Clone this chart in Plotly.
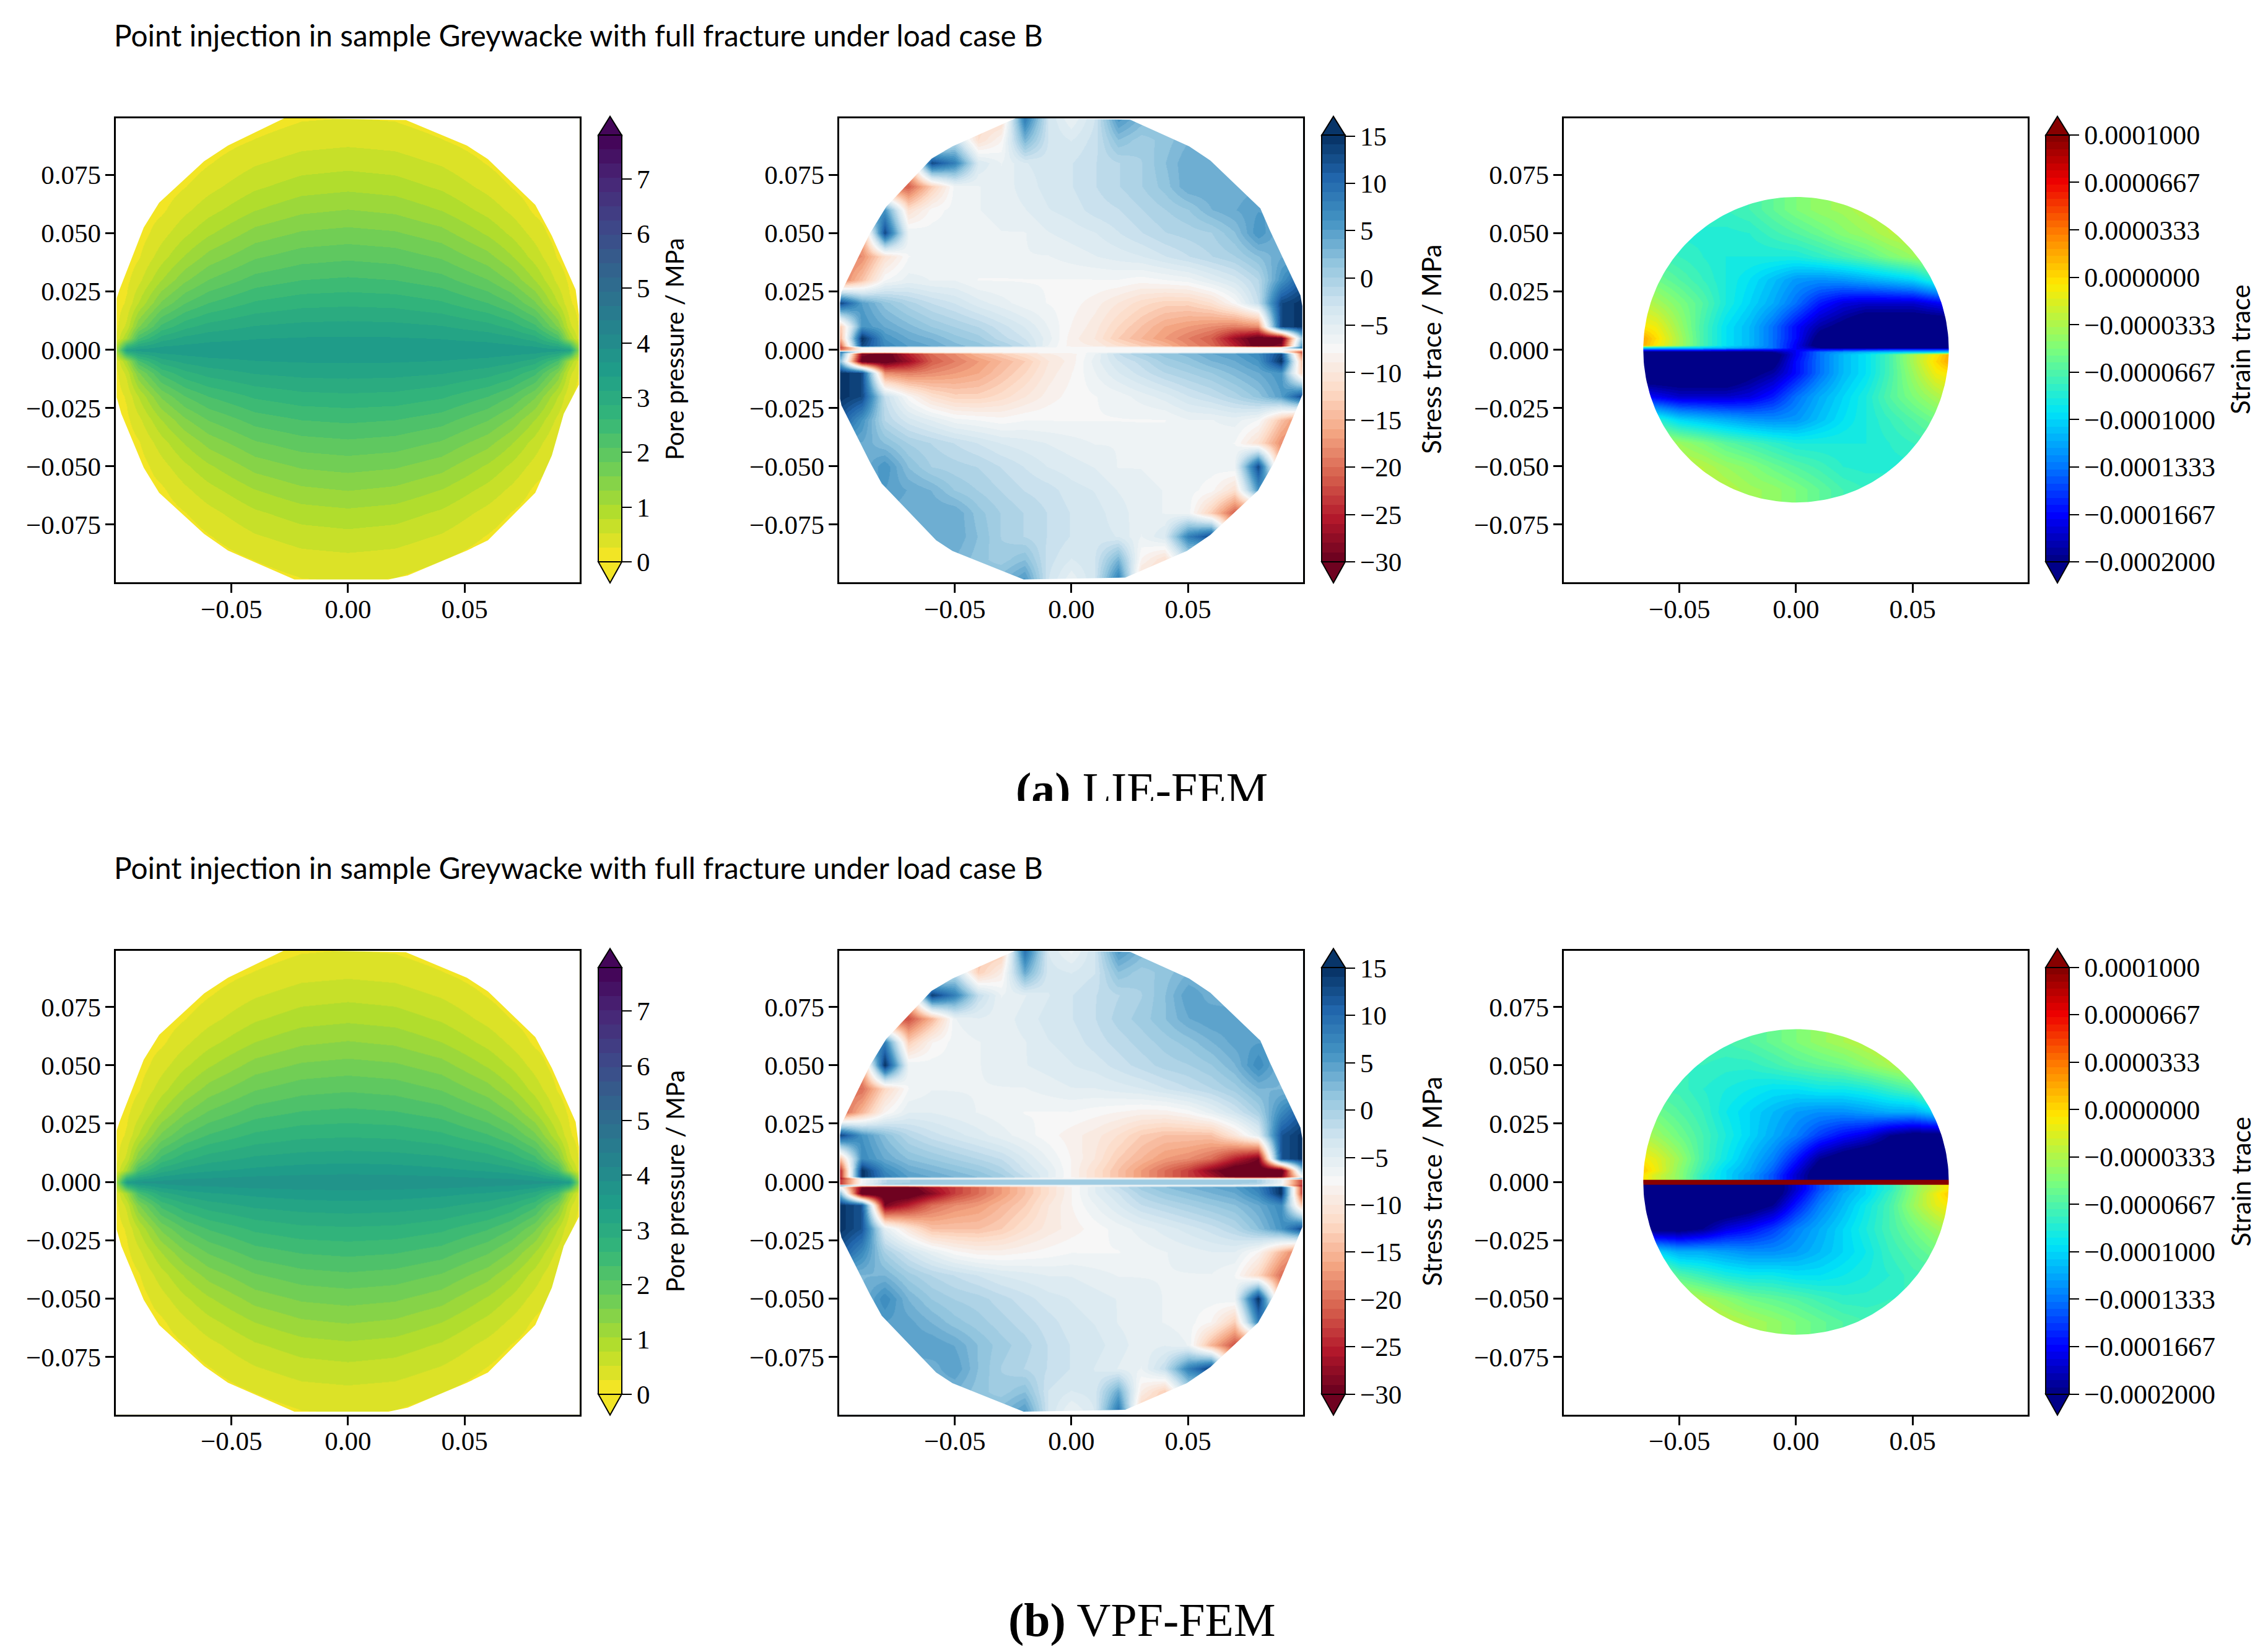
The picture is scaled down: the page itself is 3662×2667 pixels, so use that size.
import numpy as np
import plotly.graph_objects as go

W, H = 3662, 2667

# ---- text / ticks ----
TITLE = "Point injection in sample Greywacke with full fracture under load case B"
CAPTION_A = "<b>(a)</b> LIE-FEM"
CAPTION_B = "<b>(b)</b> VPF-FEM"
x_ticks = [-0.05, 0.0, 0.05]
x_labels = ["−0.05", "0.00", "0.05"]
y_ticks = [-0.075, -0.05, -0.025, 0.0, 0.025, 0.05, 0.075]
y_labels = ["−0.075", "−0.050", "−0.025", "0.000", "0.025", "0.050", "0.075"]
pore_ticks = [0, 1, 2, 3, 4, 5, 6, 7]
pore_labels = ["0", "1", "2", "3", "4", "5", "6", "7"]
stress_ticks = [-30, -25, -20, -15, -10, -5, 0, 5, 10, 15]
stress_labels = ["−30", "−25", "−20", "−15", "−10", "−5", "0", "5", "10", "15"]
strain_ticks = [-0.0002, -0.0001667, -0.0001333, -0.0001, -0.0000667, -0.0000333, 0.0, 0.0000333, 0.0000667, 0.0001]
strain_labels = ["−0.0002000", "−0.0001667", "−0.0001333", "−0.0001000", "−0.0000667", "−0.0000333",
                 "0.0000000", "0.0000333", "0.0000667", "0.0001000"]

# ---- pore pressure (MPa), one quadrant ----
pore_x = [0, .02, .04, .06, .07, .08, .09, .095, .1]
pore_y = [0, .005, .01, .02, .03, .04, .05, .06, .07, .08, .09, .1]
pore_a = [
    [3.55, 3.55, 3.55, 3.55, 3.55, 3.55, 3.5, 3.3, .8],
    [3.41, 3.40, 3.37, 3.30, 3.20, 2.99, 2.30, 1.05, .2],
    [3.22, 3.20, 3.14, 2.97, 2.78, 2.41, 1.52, .6, .15],
    [2.80, 2.77, 2.64, 2.34, 2.07, 1.60, .78, .3, .1],
    [2.39, 2.34, 2.19, 1.83, 1.51, 1.03, .44, .2, .1],
    [2.02, 1.96, 1.78, 1.39, 1.06, .66, .23, .1, .1],
    [1.65, 1.59, 1.40, .99, .72, .41, .12, .1, .1],
    [1.31, 1.24, 1.03, .68, .46, .21, .1, .1, .1],
    [.97, .91, .73, .43, .25, .1, .1, .1, .1],
    [.69, .64, .49, .24, .1, .1, .1, .1, .1],
    [.45, .41, .27, .1, .1, .1, .1, .1, .1],
    [.25, .22, .1, .1, .1, .1, .1, .1, .1],
]
pore_b = [
    [3.85, 3.85, 3.85, 3.8, 3.8, 3.75, 3.7, 3.5, .8],
    [3.55, 3.52, 3.45, 3.35, 3.25, 3.02, 2.32, 1.05, .2],
    [3.28, 3.25, 3.18, 3.0, 2.8, 2.43, 1.52, .6, .15],
    [2.82, 2.79, 2.66, 2.36, 2.09, 1.62, .78, .3, .1],
    [2.41, 2.36, 2.21, 1.85, 1.53, 1.04, .44, .2, .1],
    [2.03, 1.97, 1.79, 1.40, 1.07, .66, .23, .1, .1],
    [1.66, 1.60, 1.41, 1.0, .73, .41, .12, .1, .1],
    [1.32, 1.25, 1.04, .69, .46, .21, .1, .1, .1],
    [.98, .92, .74, .43, .25, .1, .1, .1, .1],
    [.70, .65, .49, .24, .1, .1, .1, .1, .1],
    [.45, .41, .27, .1, .1, .1, .1, .1, .1],
    [.25, .22, .1, .1, .1, .1, .1, .1, .1],
]

# ---- stress trace (MPa), upper half ----
stress_x = [-.1, -.09, -.08, -.07, -.06, -.05, -.04, -.03, -.02, -.01, 0, .01, .02, .03, .04, .05, .06, .07, .08, .09, .1]
stress_y_a = [0, .0009, .0017, .005, .01, .02, .03, .04, .05, .06, .07, .08, .09, .1]
stress_a = [
    [-20, -7, -7, -7, -7, -7, -7, -7, -7, -7, -7, -7, -7, -7, -7, -7, -7, -7, -7, -7, -14],
    [-24, -7, -7, -7, -7, -7, -7, -7, -7, -7, -7, -7, -7, -7, -7, -7, -7, -7, -7, -7, 10],
    [-24, 13, 7, 5, 4, 2.5, 1.5, 0, -2, -6, -8.5, -9, -11, -13, -15, -18, -20, -25, -31, -28, 10],
    [-18, 15, 6, 4, 3, 1.5, .5, -1.5, -3, -5.5, -8.5, -10, -13, -15, -17, -19, -21, -27, -31, -31, 5],
    [-15, 6, 4, 2.5, 1, 0, -1, -2.5, -4, -6, -8, -9.5, -12, -14, -16, -17, -18, -19, -18, 13, 15],
    [14, 5, 1.5, -.5, -2, -3, -4.5, -5.5, -6.5, -7, -7.5, -8.5, -10, -11.5, -12.5, -12.5, -11, -7.5, -2, 13, 15],
    [-20, -14, -7, -5.5, -6, -6, -7, -7, -7, -7, -7, -7, -7, -7.5, -7, -6.5, -5, -3.5, -1, 6, 12],
    [-20, -18, -11, -7, -6.5, -6.5, -6.5, -6.5, -6, -6, -5.5, -5, -4.5, -4, -3, -2, -1, 0, 2, 4, 4],
    [-16, -16, 13, -6, -6.5, -6.5, -6.5, -6, -6, -5, -4.5, -4, -3, -2, -1, -.5, 0, 2, 6, 3, 3],
    [6, 6, 6, -11, -7.5, -6.5, -6, -5.5, -5, -4, -3.5, -2.5, -2, -1, 0, 1, 3, 4, 5, 5, 5],
    [-20, -20, -20, -21, -13, -6.5, -6, -5.5, -4.5, -3.5, -3, -2, -1, 0, 1.5, 4, 4, 3.5, 4, 4, 4],
    [-14, -14, -14, -14, 13, 8, -4, -6, -4, -3.5, -3, -2, -1, 0, 2, 4, 3.5, 3, 3, 3, 3],
    [-8, -8, -8, -8, -8, -2, -11, -8, 3, -3, -4, -2.5, 2, .5, 1.5, 3, 3, 3, 3, 3, 3],
    [-5, -5, -5, -5, -5, -5, -12, -12, 9, -3, -6, -3, 6, 3, 2, 2, 2, 2, 2, 2, 2],
]
stress_y_b = [0, .0009, .0014, .0022, .005, .01, .02, .03, .04, .05, .06, .07, .08, .09, .1]
stress_b = [
    [-25, -7, -1, 0, 1, 1, 1, 1, 1, 1, 1, 1, 1, 1, 1, 1, 1, 1, 0, -6, -25],
    [-25, -7, -1, 0, 1, 1, 1, 1, 1, 1, 1, 1, 1, 1, 1, 1, 1, 1, 0, -6, -25],
    [-28, -7, -7, -7, -7, -7, -7, -7, -7, -7, -7, -7, -7, -7, -7, -7, -7, -7, -7, -7, 5],
    [-28, 15, 8, 5, 4, 3, 2, .5, -2, -5, -8, -11, -14, -17, -20, -23, -26, -31, -32, -29, -5],
    [-28, 15, 7, 4, 3, 2, 1, -.5, -3, -5, -8, -11, -14, -17, -20, -23, -28, -32, -32, -32, 5],
    [-16, 7, 4, 2, 1, 0, -1, -2, -4, -6, -8, -10, -13, -15, -17, -18, -20, -25, -29, 12, 15],
    [14, 6, 2, -1, -2.5, -3.5, -4.5, -5.5, -6.5, -7.5, -8.5, -9.5, -11, -13, -14, -14, -14, -10, -5, 12, 15],
    [-22, -15, -8, -5, -5, -5.5, -6, -6.5, -7, -7, -7, -7.5, -8, -8.5, -8.5, -7.5, -5.5, -3, 0, 7, 12],
    [-20, -20, -12, -7, -6, -6, -6, -6, -6, -5.5, -5, -5, -4.5, -4, -3, -2, -1, .5, 3, 3, 3],
    [-16, -16, 15, -6, -6.5, -6.5, -6, -5.5, -5, -4.5, -4, -3.5, -2.5, -1.5, -.5, 0, 1, 3, 7, 3, 3],
    [8, 8, 8, -13, -8, -6.5, -6, -5.5, -5, -4, -3.5, -2.5, -1.5, -.5, .5, 1.5, 3, 4.5, 5, 5, 5],
    [-21, -21, -21, -22, -15, -6, -5, -5.5, -4.5, -3.5, -3, -2, -.5, .5, 2, 4, 5, 5, 4, 4, 4],
    [-14, -14, -14, -14, 14, 8, -2, -6, -5, -4, -3, -2, -1, 0, 2, 5, 3.5, 3, 3, 3, 3],
    [-8, -8, -8, -8, -8, -2, -13, -9, 4, -3.5, -4, -3, 2, .5, 1.5, 3, 3, 3, 3, 3, 3],
    [-5, -5, -5, -5, -5, -5, -14, -14, 10, -4, -6.5, -3, 6, 3, 2, 2, 2, 2, 2, 2, 2],
]

# ---- strain trace (units of 1e-4), upper half ----
strain_x = [-.07, -.06, -.05, -.04, -.03, -.02, -.01, 0, .01, .02, .03, .04, .05, .06, .07]
strain_y_a = [0, .001, .002, .005, .01, .02, .03, .04, .05, .06, .07]
strain_a = [
    [-1.5, -1.5, -1.5, -1.5, -1.55, -1.6, -1.65, -1.7, -1.65, -1.6, -1.55, -1.5, -1.5, -1.5, -1.5],
    [-1, -1, -1.02, -1.05, -1.1, -1.2, -1.35, -1.7, -1.95, -2.05, -2.05, -2.05, -2.05, -2.05, -2.05],
    [.3, -.05, -.35, -.7, -.95, -1.1, -1.35, -1.7, -2.1, -2.2, -2.2, -2.2, -2.2, -2.2, -2.2],
    [.3, 0, -.35, -.7, -.95, -1.1, -1.35, -1.65, -2.05, -2.2, -2.2, -2.2, -2.2, -2.2, -2.2],
    [0, -.1, -.4, -.7, -.95, -1.1, -1.35, -1.65, -1.9, -2.03, -2.2, -2.2, -2.2, -2.2, -2.2],
    [-.2, -.35, -.5, -.65, -.85, -1.0, -1.15, -1.35, -1.6, -1.75, -1.8, -1.8, -1.8, -1.7, -1.6],
    [-.5, -.55, -.65, -.75, -.85, -.95, -1.08, -1.22, -1.25, -1.22, -1.15, -1.08, -1.0, -.8, -.7],
    [-.7, -.7, -.75, -.8, -.85, -.85, -.85, -.85, -.78, -.7, -.62, -.5, -.4, -.3, -.3],
    [-.8, -.82, -.82, -.82, -.82, -.8, -.72, -.65, -.57, -.47, -.4, -.3, -.25, -.2, -.2],
    [-.75, -.75, -.75, -.75, -.75, -.7, -.6, -.5, -.42, -.38, -.3, -.25, -.25, -.25, -.25],
    [-.75, -.75, -.75, -.75, -.75, -.7, -.6, -.5, -.42, -.38, -.3, -.25, -.25, -.25, -.25],
]
strain_y_b = [0, .0009, .0013, .003, .005, .01, .02, .03, .04, .05, .06, .07]
strain_b = [
    [1.2, 1.2, 1.2, 1.2, 1.2, 1.2, 1.2, 1.2, 1.2, 1.2, 1.2, 1.2, 1.2, 1.2, 1.2],
    [1.2, 1.2, 1.2, 1.2, 1.2, 1.2, 1.2, 1.2, 1.2, 1.2, 1.2, 1.2, 1.2, 1.2, 1.2],
    [.1, -.2, -.45, -.8, -1.0, -1.2, -1.45, -1.8, -2.1, -2.2, -2.2, -2.2, -2.2, -2.2, -2.2],
    [.1, -.2, -.45, -.8, -1.0, -1.2, -1.45, -1.8, -2.1, -2.2, -2.2, -2.2, -2.2, -2.2, -2.2],
    [.2, -.1, -.45, -.75, -1.0, -1.15, -1.4, -1.75, -2.1, -2.2, -2.2, -2.2, -2.2, -2.2, -2.2],
    [0, -.15, -.4, -.7, -.9, -1.1, -1.3, -1.6, -1.95, -2.1, -2.2, -2.2, -2.2, -2.2, -2.2],
    [-.25, -.4, -.55, -.7, -.85, -1.0, -1.15, -1.3, -1.5, -1.65, -1.75, -1.95, -2.05, -2.05, -2.0],
    [-.5, -.55, -.65, -.75, -.9, -1.0, -1.1, -1.2, -1.25, -1.25, -1.2, -1.15, -1.15, -1.0, -.8],
    [-.65, -.7, -.72, -.8, -.85, -.9, -.95, -.95, -.9, -.9, -.85, -.75, -.65, -.4, -.3],
    [-.7, -.72, -.75, -.75, -.78, -.78, -.72, -.65, -.6, -.55, -.45, -.35, -.25, -.2, -.2],
    [-.7, -.7, -.7, -.7, -.7, -.65, -.58, -.5, -.42, -.35, -.28, -.22, -.2, -.2, -.2],
    [-.7, -.7, -.7, -.7, -.7, -.65, -.58, -.5, -.42, -.35, -.28, -.22, -.2, -.2, -.2],
]

# ---- mesh outlines (counter-clockwise) ----
outline_x = [.099, .0982, .085, .081, .0596, .0505, .0252, -.0235, -.051, -.06, -.0794, -.0864, -.0986, -.0992,
             -.0992, -.0986, -.0864, -.0813, -.058, -.051, -.0205, .0231, .0495, .0596, .08, .087, .0962, .099]
outline_y = [.0187, .0233, .0514, .0606, .0811, .0872, .0986, .0994, .0872, .0819, .0613, .0499, .0248, .02,
             -.021, -.0239, -.0482, -.0574, -.0817, -.0863, -.0985, -.0977, -.0863, -.0794, -.0604, -.0482, -.0262, -.0193]
pore_outline_x = [.099, .0976, .0874, .0803, .06, .051, .0248, -.027, -.0515, -.0617, -.081, -.0876, -.098, -.0992,
                  -.0992, -.0972, -.0876, -.081, -.0617, -.0515, -.023, .0174, .0256, .051, .06, .0803, .0874, .0925, .099]
pore_outline_y = [.015, .0257, .0488, .0621, .0817, .0875, .0985, .0994, .0875, .0808, .063, .0524, .0257, .022,
                  -.0204, -.0275, -.0506, -.0613, -.079, -.0861, -.0985, -.0985, -.0968, -.0861, -.0817, -.0613, -.0453, -.0275, -.015]
STRAIN_RADIUS = 0.0655
AX_RANGE = [-0.0997, 0.0992]

# ---- colour maps ----
VIRIDIS_R = ["#fde725", "#b5de2b", "#6ece58", "#35b779", "#1f9e89", "#26828e", "#31688e", "#3e4989", "#482878", "#440154"]
RDBU = ["#67001f", "#b2182b", "#d6604d", "#f4a582", "#fddbc7", "#f7f7f7", "#d1e5f0", "#92c5de", "#4393c3", "#2166ac", "#053061"]
JET = ["#00007f", "#0000ff", "#007fff", "#00e5f8", "#7dff7a", "#ffea00", "#ff7f00", "#ee0000", "#7f0000"]
jet_pos = [0, .11, .23, .35, .5, .65, .77, .89, 1]


def hex2rgb(c):
    return np.array([int(c[i:i + 2], 16) for i in (1, 3, 5)], float)


def stepped(anchors, pos, n):
    arr = np.array([hex2rgb(a) for a in anchors])
    out = []
    for i in range(n):
        t = (i + .5) / n
        rgb = [np.interp(t, pos, arr[:, k]) for k in range(3)]
        col = "rgb(%d,%d,%d)" % tuple(rgb)
        out += [[i / n, col], [(i + 1) / n, col]]
    return out


def even(k):
    return np.linspace(0, 1, k)


CS_PORE = stepped(VIRIDIS_R, even(10), 30)
CS_STRESS = stepped(RDBU, even(11), 45)
CS_STRAIN = stepped(JET, jet_pos, 60)


# ---- layout helpers (pixels to paper fractions) ----
def px(v):
    return v / W


def py(v):
    return 1 - v / H


SERIF = "Liberation Serif"
SANS = "Lato"
fig = go.Figure()


def mirror_quadrant(x, y, z):
    x, y, z = np.array(x), np.array(y), np.array(z)
    fx = np.concatenate([-x[:0:-1], x])
    fy = np.concatenate([-y[:0:-1], y])
    right = np.hstack([z[:, :0:-1], z])
    full = np.vstack([right[:0:-1], right])
    return fx, fy, full


def rotate_half(x, y, z):
    x, y, z = np.array(x), np.array(y), np.array(z)
    fy = np.concatenate([-y[:0:-1], y])
    full = np.vstack([z[:0:-1, ::-1], z])
    return x, fy, full


def ring(px_list, py_list):
    o = [-.12, .12, .12, -.12, -.12]
    q = [-.12, -.12, .12, .12, -.12]
    ix = list(px_list) + [px_list[0]]
    iy = list(py_list) + [py_list[0]]
    # outer square counter-clockwise, inner outline run backwards
    return o + ix[::-1] + [o[0]], q + iy[::-1] + [q[0]]


theta = np.linspace(0, 2 * np.pi, 241)[:-1]
circle_x = list(STRAIN_RADIUS * np.cos(theta))
circle_y = list(STRAIN_RADIUS * np.sin(theta))

COL_X = [186.5, 1354.5, 2524.5]
CB_X = [966, 2134, 3303]
ROW_TOP = [191, 1534.5]
PANEL = 749
CB_TITLE_X = [1089, 2311, 3617]
CB_TITLE_SIZE = [40, 42, 42]

panels = [
    (0, 0, *mirror_quadrant(pore_x, pore_y, pore_a), CS_PORE, 0, 7.8, pore_ticks, pore_labels, "Pore pressure / MPa", (pore_outline_x, pore_outline_y)),
    (1, 0, *rotate_half(stress_x, stress_y_a, stress_a), CS_STRESS, -30, 15.1, stress_ticks, stress_labels, "Stress trace / MPa", (outline_x, outline_y)),
    (2, 0, *rotate_half(strain_x, strain_y_a, np.array(strain_a) * 1e-4), CS_STRAIN, -0.0002, 0.0001, strain_ticks, strain_labels, "Strain trace", (circle_x, circle_y)),
    (0, 1, *mirror_quadrant(pore_x, pore_y, pore_b), CS_PORE, 0, 7.8, pore_ticks, pore_labels, "Pore pressure / MPa", (pore_outline_x, pore_outline_y)),
    (1, 1, *rotate_half(stress_x, stress_y_b, stress_b), CS_STRESS, -30, 15.1, stress_ticks, stress_labels, "Stress trace / MPa", (outline_x, outline_y)),
    (2, 1, *rotate_half(strain_x, strain_y_b, np.array(strain_b) * 1e-4), CS_STRAIN, -0.0002, 0.0001, strain_ticks, strain_labels, "Strain trace", (circle_x, circle_y)),
]

shapes, axes = [], {}
annotations = [
    dict(text=TITLE, x=px(182), y=py(56), xref="paper", yref="paper", xanchor="left", yanchor="middle",
         showarrow=False, font=dict(family=SANS, size=47.8, color="black")),
    dict(text=TITLE, x=px(182), y=py(1400), xref="paper", yref="paper", xanchor="left", yanchor="middle",
         showarrow=False, font=dict(family=SANS, size=47.8, color="black")),
    dict(text=CAPTION_A, x=px(1843), y=py(1274), xref="paper", yref="paper", xanchor="center", yanchor="middle",
         showarrow=False, font=dict(family=SERIF, size=76, color="black")),
    # the reference crops the lower edge of caption (a)
    dict(text="&#160;", x=px(1843), y=py(1293), xref="paper", yref="paper", xanchor="center", yanchor="top",
         width=600, height=60, bgcolor="white", borderpad=0, borderwidth=0, showarrow=False,
         font=dict(size=10, color="white")),
    dict(text=CAPTION_B, x=px(1844), y=py(2615), xref="paper", yref="paper", xanchor="center", yanchor="middle",
         showarrow=False, font=dict(family=SERIF, size=76, color="black")),
]

for n, (c, r, fx, fy, fz, cs, zmin, zmax, cbt, cbl, cbtitle, mask) in enumerate(panels, start=1):
    left, top = COL_X[c], ROW_TOP[r]
    cb_left = CB_X[c]
    cb_top, cb_bottom = top + 27.5, top + 716
    fig.add_trace(go.Heatmap(
        x=fx, y=fy, z=fz, zsmooth="best", colorscale=cs, zmin=zmin, zmax=zmax, hoverinfo="skip",
        xaxis=f"x{n}", yaxis=f"y{n}",
        colorbar=dict(
            x=px(cb_left), xanchor="left", xpad=0, y=py(cb_bottom), yanchor="bottom", ypad=0,
            thickness=38, thicknessmode="pixels", len=cb_bottom - cb_top, lenmode="pixels",
            tickmode="array", tickvals=cbt, ticktext=cbl, ticks="outside", ticklen=15, tickwidth=2,
            tickcolor="black", outlinecolor="black", outlinewidth=2,
            tickfont=dict(family=SERIF, size=44 if c == 2 else 43, color="black"),
        ),
    ))
    annotations.append(dict(text=cbtitle, x=px(CB_TITLE_X[c]), y=py(top + 373), xref="paper", yref="paper",
                            xanchor="center", yanchor="middle", textangle=-90, showarrow=False,
                            font=dict(family=SANS, size=CB_TITLE_SIZE[c], color="black")))
    mx, my = ring(*mask)
    fig.add_trace(go.Scatter(x=mx, y=my, mode="lines", line=dict(width=0, color="white"), fill="toself",
                             fillcolor="white", hoverinfo="skip", showlegend=False,
                             xaxis=f"x{n}", yaxis=f"y{n}"))
    common = dict(range=AX_RANGE, showline=True, mirror=True, linecolor="black", linewidth=3, showgrid=False,
                  zeroline=False, ticks="outside", ticklen=14, tickwidth=2.5, tickcolor="black",
                  tickfont=dict(family=SERIF, size=43, color="black"), tickmode="array")
    axes[f"xaxis{n}"] = dict(domain=[px(left), px(left + PANEL)], anchor=f"y{n}", tickvals=x_ticks, ticktext=x_labels,
                             ticklabelstandoff=-11, **common)
    axes[f"yaxis{n}"] = dict(domain=[py(top + PANEL), py(top)], anchor=f"x{n}", tickvals=y_ticks, ticktext=y_labels,
                             ticklabelstandoff=-2, **common)
    # extension triangles of the colour bar
    mid = cb_left + 19
    for base, tip, colour in ((cb_top, top - 3, cs[-1][1]), (cb_bottom, top + 750, cs[0][1])):
        shapes.append(dict(type="path", xref="paper", yref="paper", fillcolor=colour,
                           line=dict(color="black", width=2),
                           path=f"M {px(cb_left)} {py(base)} L {px(cb_left + 38)} {py(base)} L {px(mid)} {py(tip)} Z"))

fig.update_layout(width=W, height=H, margin=dict(l=0, r=0, t=0, b=0, autoexpand=False), paper_bgcolor="white",
                  plot_bgcolor="white", showlegend=False, shapes=shapes, annotations=annotations, **axes)
fig.write_html("out.html", config={"displayModeBar": False}, post_script="document.body.style.margin='0';")
